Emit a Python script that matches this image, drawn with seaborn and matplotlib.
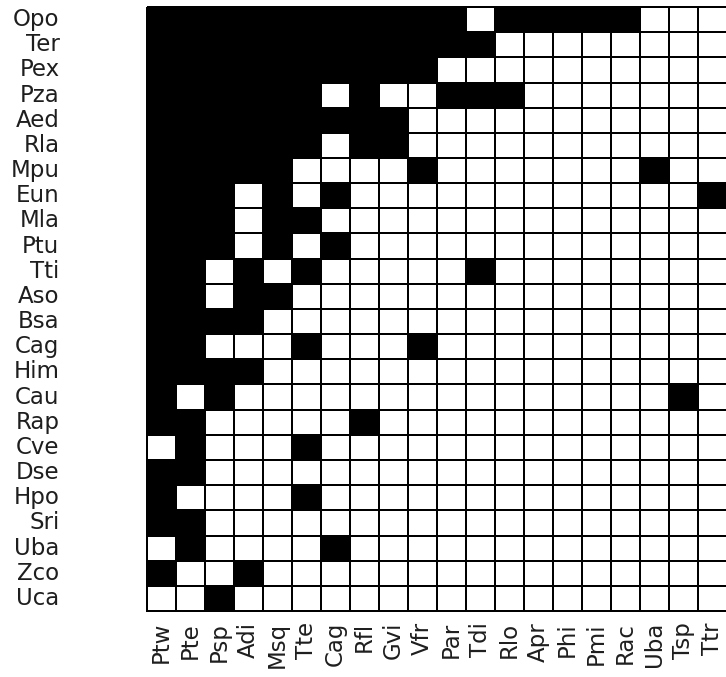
import numpy as np
import pandas as pd
import seaborn as sns
import matplotlib.pyplot as plt
from matplotlib.colors import ListedColormap

species_rows = ["Opo", "Ter", "Pex", "Pza", "Aed", "Rla", "Mpu", "Eun", "Mla", "Ptu",
                "Tti", "Aso", "Bsa", "Cag", "Him", "Cau", "Rap", "Cve", "Dse", "Hpo",
                "Sri", "Uba", "Zco", "Uca"]
species_cols = ["Ptw", "Pte", "Psp", "Adi", "Msq", "Tte", "Cag", "Rfl", "Gvi", "Vfr",
                "Par", "Tdi", "Rlo", "Apr", "Phi", "Pmi", "Rac", "Uba", "Tsp", "Ttr"]

# presence (1 = black) per row
opo = [1,1,1,1,1,1,1,1,1,1,1,0,1,1,1,1,1,0,0,0]
ter = [1,1,1,1,1,1,1,1,1,1,1,1,0,0,0,0,0,0,0,0]
pex = [1,1,1,1,1,1,1,1,1,1,0,0,0,0,0,0,0,0,0,0]
pza = [1,1,1,1,1,1,0,1,0,0,1,1,1,0,0,0,0,0,0,0]
aed = [1,1,1,1,1,1,1,1,1,0,0,0,0,0,0,0,0,0,0,0]
rla = [1,1,1,1,1,1,0,1,1,0,0,0,0,0,0,0,0,0,0,0]
mpu = [1,1,1,1,1,0,0,0,0,1,0,0,0,0,0,0,0,1,0,0]
eun = [1,1,1,0,1,0,1,0,0,0,0,0,0,0,0,0,0,0,0,1]
mla = [1,1,1,0,1,1,0,0,0,0,0,0,0,0,0,0,0,0,0,0]
ptu = [1,1,1,0,1,0,1,0,0,0,0,0,0,0,0,0,0,0,0,0]
tti = [1,1,0,1,0,1,0,0,0,0,0,1,0,0,0,0,0,0,0,0]
aso = [1,1,0,1,1,0,0,0,0,0,0,0,0,0,0,0,0,0,0,0]
bsa = [1,1,1,1,0,0,0,0,0,0,0,0,0,0,0,0,0,0,0,0]
cag = [1,1,0,0,0,1,0,0,0,1,0,0,0,0,0,0,0,0,0,0]
him = [1,1,1,1,0,0,0,0,0,0,0,0,0,0,0,0,0,0,0,0]
cau = [1,0,1,0,0,0,0,0,0,0,0,0,0,0,0,0,0,0,1,0]
rap = [1,1,0,0,0,0,0,1,0,0,0,0,0,0,0,0,0,0,0,0]
cve = [0,1,0,0,0,1,0,0,0,0,0,0,0,0,0,0,0,0,0,0]
dse = [1,1,0,0,0,0,0,0,0,0,0,0,0,0,0,0,0,0,0,0]
hpo = [1,0,0,0,0,1,0,0,0,0,0,0,0,0,0,0,0,0,0,0]
sri = [1,1,0,0,0,0,0,0,0,0,0,0,0,0,0,0,0,0,0,0]
uba = [0,1,0,0,0,0,1,0,0,0,0,0,0,0,0,0,0,0,0,0]
zco = [1,0,0,1,0,0,0,0,0,0,0,0,0,0,0,0,0,0,0,0]
uca = [0,0,1,0,0,0,0,0,0,0,0,0,0,0,0,0,0,0,0,0]

matrix = [opo, ter, pex, pza, aed, rla, mpu, eun, mla, ptu, tti, aso, bsa, cag,
          him, cau, rap, cve, dse, hpo, sri, uba, zco, uca]
df = pd.DataFrame(matrix, index=species_rows, columns=species_cols)

sns.set_style("white")
plt.rcParams['font.family'] = ['DejaVu Sans']

W, H = 726, 677
fig = plt.figure(figsize=(W / 100, H / 100), dpi=100)
ax = fig.add_axes([147 / W, 1 - 611 / H, (727 - 147) / W, (611 - 7) / H])

sns.heatmap(df, ax=ax, cmap=ListedColormap(["white", "black"]), vmin=0, vmax=1,
            cbar=False, linewidths=1.2, linecolor="black", clip_on=False)

ax.tick_params(axis="both", length=0, labelsize=16.5, colors="#1e1e1e")
ax.tick_params(axis="y", pad=63)
ax.tick_params(axis="x", pad=8)
ax.set_yticklabels(species_rows, rotation=0)
ax.set_xticklabels(species_cols, rotation=90)
ax.set_xlabel("")
ax.set_ylabel("")

fig.savefig("out.png", dpi=100, facecolor="white")
